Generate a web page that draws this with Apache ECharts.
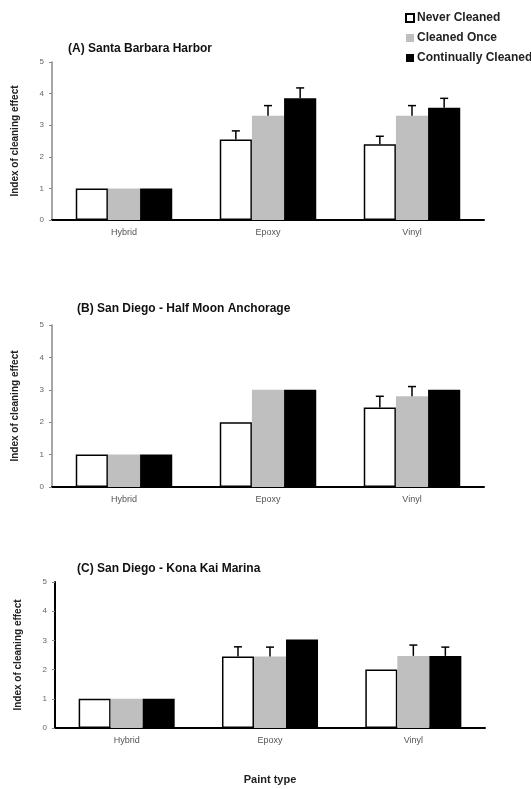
<!DOCTYPE html>
<html><head><meta charset="utf-8">
<script src="https://cdn.jsdelivr.net/npm/echarts@6/dist/echarts.min.js"></script>
<style>html,body{margin:0;padding:0;background:#fff}#c{width:531px;height:789px}</style>
</head><body><div id="c"></div>
<script>
const categories = ['Hybrid', 'Epoxy', 'Vinyl'];
const seriesNames = ['Never Cleaned', 'Cleaned Once', 'Continually Cleaned'];
const panelTitles = ['(A) Santa Barbara Harbor', '(B) San Diego - Half Moon Anchorage', '(C) San Diego - Kona Kai Marina'];
const yTicks = [0, 1, 2, 3, 4, 5];
const yAxisTitle = 'Index of cleaning effect';
const xAxisTitle = 'Paint type';

// Panel A
const aNever = [1.0, 2.55, 2.4];
const aNeverErr = [0, 0.27, 0.25];
const aOnce = [1.0, 3.3, 3.3];
const aOnceErr = [0, 0.32, 0.32];
const aCont = [1.0, 3.85, 3.55];
const aContErr = [0, 0.33, 0.3];
// Panel B
const bNever = [1.0, 2.0, 2.45];
const bNeverErr = [0, 0, 0.35];
const bOnce = [1.0, 3.0, 2.8];
const bOnceErr = [0, 0, 0.3];
const bCont = [1.0, 3.0, 3.0];
const bContErr = [0, 0, 0];
// Panel C
const cNever = [1.0, 2.45, 2.0];
const cNeverErr = [0, 0.33, 0];
const cOnce = [1.0, 2.45, 2.47];
const cOnceErr = [0, 0.32, 0.37];
const cCont = [1.0, 3.03, 2.47];
const cContErr = [0, 0, 0.3];

const panels = [
  { vals: [aNever, aOnce, aCont], errs: [aNeverErr, aOnceErr, aContErr] },
  { vals: [bNever, bOnce, bCont], errs: [bNeverErr, bOnceErr, bContErr] },
  { vals: [cNever, cOnce, cCont], errs: [cNeverErr, cOnceErr, cContErr] }
];

const FONT = 'Liberation Sans, Arial, sans-serif';
const gridPos = [
  { left: 52, top: 62, width: 432, height: 158 },
  { left: 52, top: 325, width: 432, height: 162 },
  { left: 55, top: 582, width: 430, height: 146 }
];
const titleTops = [38, 298, 558];
const titleLefts = [63, 72, 72];
const fills = ['#ffffff', '#bfbfbf', '#000000'];
const GAP = 0.33;

const grids = [], xAxes = [], yAxes = [], series = [], titles = [];
gridPos.forEach((g, gi) => {
  grids.push(Object.assign({}, g));
  titles.push({ text: panelTitles[gi], left: titleLefts[gi], top: titleTops[gi],
    textStyle: { fontFamily: FONT, fontSize: 12, fontWeight: 'bold', color: '#111' } });
  xAxes.push({
    type: 'category', gridIndex: gi, data: categories,
    axisLine: { lineStyle: { color: '#000', width: 2 } },
    axisTick: { show: false },
    axisLabel: { fontFamily: FONT, fontSize: 9, color: '#555', margin: 8 },
    name: gi === 2 ? xAxisTitle : '', nameLocation: 'middle', nameGap: 46,
    nameTextStyle: { fontFamily: FONT, fontSize: 11, fontWeight: 'bold', color: '#222' }
  });
  yAxes.push({
    type: 'value', gridIndex: gi, min: yTicks[0], max: yTicks[yTicks.length - 1], interval: 1,
    axisLine: { show: true, lineStyle: { color: gi === 2 ? '#000' : '#888', width: gi === 2 ? 2 : 1.5 } },
    axisTick: { show: true, length: 3, lineStyle: { color: '#888' } },
    splitLine: { show: false },
    axisLabel: { fontFamily: FONT, fontSize: 8, color: '#666', margin: 8 },
    name: yAxisTitle, nameLocation: 'middle', nameRotate: 90, nameGap: 32,
    nameTextStyle: { fontFamily: FONT, fontSize: 10, fontWeight: 'bold', color: '#222' }
  });
  const p = panels[gi];
  p.vals.forEach((vals, si) => {
    series.push({
      type: 'bar', name: seriesNames[si], xAxisIndex: gi, yAxisIndex: gi,
      data: vals, barGap: '0%', barCategoryGap: (GAP * 100) + '%',
      itemStyle: { color: fills[si], borderColor: '#000', borderWidth: si === 0 ? 1.5 : 0 },
      emphasis: { disabled: true }
    });
  });
  p.vals.forEach((vals, si) => {
    const errs = p.errs[si];
    const data = [];
    vals.forEach((v, i) => { if (errs[i] > 0) data.push([i, v, v + errs[i]]); });
    if (!data.length) return;
    series.push({
      type: 'custom', xAxisIndex: gi, yAxisIndex: gi, data: data, z: 5, silent: true,
      renderItem: function (params, api) {
        const cat = api.value(0);
        const band = api.size([1, 0])[0];
        const bw = band * (1 - GAP) / 3;
        const base = api.coord([cat, api.value(1)]);
        const top = api.coord([cat, api.value(2)]);
        const cx = base[0] + (si - 1) * bw;
        const st = { stroke: '#000', lineWidth: 1.5 };
        return { type: 'group', children: [
          { type: 'line', shape: { x1: cx, y1: base[1], x2: cx, y2: top[1] }, style: st },
          { type: 'line', shape: { x1: cx - 4, y1: top[1], x2: cx + 4, y2: top[1] }, style: st }
        ] };
      }
    });
  });
});

const chart = echarts.init(document.getElementById('c'), null, { renderer: 'canvas' });
chart.setOption({
  animation: false,
  backgroundColor: '#fff',
  title: titles,
  legend: {
    data: seriesNames.map(n => ({ name: n, icon: 'rect' })), orient: 'vertical', left: 400, top: 7,
    itemWidth: 8, itemHeight: 8, itemGap: 8, selectedMode: false,
    textStyle: { fontFamily: FONT, fontSize: 12, fontWeight: 'bold', color: '#222', padding: [0, 0, 0, -2] }
  },
  grid: grids, xAxis: xAxes, yAxis: yAxes, series: series
});
</script></body></html>
